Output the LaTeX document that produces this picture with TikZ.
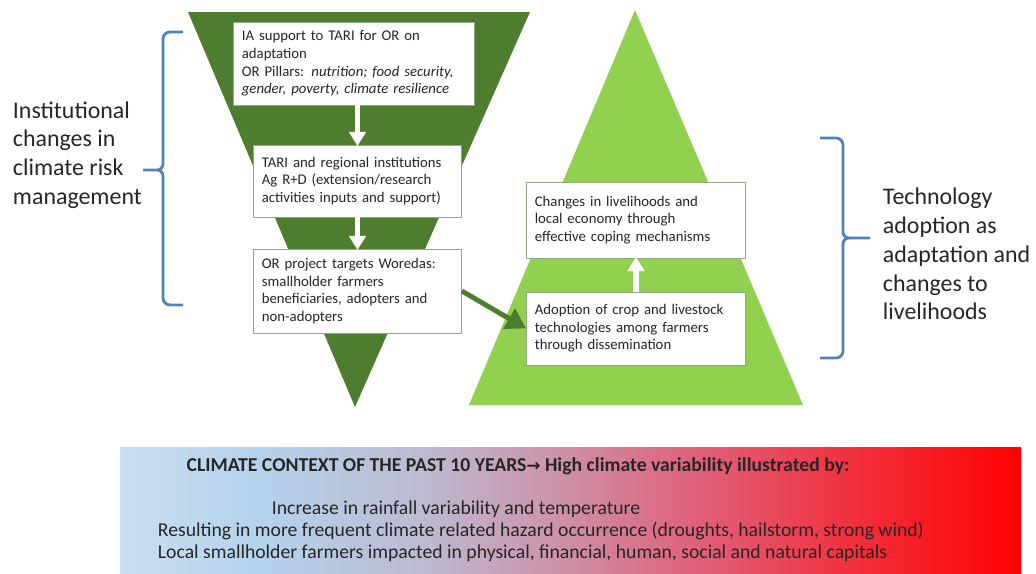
\documentclass[tikz,border=0pt]{standalone}
\usepackage{fontspec}
\setmainfont{Carlito}
\newfontfamily\arrowfont{DejaVu Sans}
\usetikzlibrary{arrows.meta}
\definecolor{darkleaf}{HTML}{4F7D2F}
\definecolor{lightleaf}{HTML}{92D050}
\definecolor{boxline}{HTML}{8FA97F}
\definecolor{braceblue}{HTML}{4F81BD}
\definecolor{ink}{HTML}{262626}
\definecolor{skyA}{HTML}{C9DEF1}
\definecolor{skyB}{HTML}{B5D2EC}
\definecolor{haze}{HTML}{BDB9D0}
\definecolor{mauve}{HTML}{CC94AA}
\definecolor{rosy}{HTML}{E0607A}
\definecolor{hot}{HTML}{F22E3A}
\definecolor{fire}{HTML}{FF0000}
\pgfdeclarehorizontalshading{climate}{100bp}{color(0bp)=(skyA); color(25bp)=(skyA); color(33bp)=(skyB); color(42bp)=(haze); color(49bp)=(mauve); color(57bp)=(rosy); color(66bp)=(hot); color(75bp)=(fire); color(100bp)=(fire)}
\tikzset{
  stagebox/.style={draw=boxline,fill=white,line width=0.5pt,align=left,inner xsep=6pt,inner ysep=4pt},
  sidetext/.style={align=left,font=\fontsize{17}{20.5}\selectfont},
  flowdown/.style={white,line width=4.2pt,-{Triangle[length=10pt,width=11.5pt]},shorten >=-1pt},
  leafarrow/.style={darkleaf,line width=3.5pt,-{Triangle[length=14pt,width=16pt]}},
  bracket/.style={braceblue,line width=2pt},
  ctxtext/.style={font=\fontsize{14}{16.5}\selectfont,text=black!85}
}

\begin{document}
\begin{tikzpicture}[x=0.025cm,y=-0.025cm,font=\fontsize{10.5}{12.5}\selectfont,text=ink]
  \useasboundingbox (0,0) rectangle (1036,573);
  % the two triangles
  \fill[darkleaf] (188,12) -- (530,12) -- (355,407) -- cycle;
  \fill[lightleaf] (635,10) -- (803,405) -- (469,405) -- cycle;

  % institutional side
  \node[stagebox,text width=159.5pt,minimum height=2.075cm] (support) at (354,63.5)
    {IA support to TARI for OR on\\adaptation\\OR Pillars: \textit{nutrition; food security,}\\\textit{gender, poverty, climate resilience}};
  \node[stagebox,text width=136pt,minimum height=1.8cm] (tari) at (357.5,181)
    {TARI and regional institutions\\Ag R+D (extension/research\\activities inputs and support)};
  \node[stagebox,text width=136pt,minimum height=2.1cm] (woredas) at (357.5,291)
    {OR project targets Woredas:\\smallholder farmers\\beneficiaries, adopters and\\non-adopters};

  % technology side
  \node[stagebox,text width=143.9pt,minimum height=1.9cm] (livelihood) at (636,220)
    {Changes in livelihoods and\\local economy through\\effective coping mechanisms};
  \node[stagebox,text width=143.9pt,minimum height=1.825cm] (adoption) at (636,328.5)
    {Adoption of crop and livestock\\technologies among farmers\\through dissemination};

  \draw[flowdown] (tari.north |- support.south) -- (tari.north);
  \draw[flowdown] (tari.south) -- (woredas.north);
  \draw[flowdown] (adoption.north) -- (livelihood.south);
  \draw[leafarrow] (woredas.east) -- (adoption.west);

  % braces
  \draw[bracket] (183,32) -- (170,32) to[out=180,in=90] (163,39) -- (163,164)
    to[out=-90,in=0] (157,170) -- (143,170)
    (157,170) to[out=0,in=90] (163,176) -- (163,298) to[out=-90,in=180] (170,305) -- (183,305);
  \draw[bracket] (820,138) -- (836,138) to[out=0,in=90] (843,145) -- (843,232)
    to[out=-90,in=180] (849,238) -- (870,238)
    (849,238) to[out=180,in=90] (843,244) -- (843,351) to[out=-90,in=0] (836,358) -- (820,358);
  \node[sidetext,anchor=west] (institutional) at (8,155)
    {Institutional\\changes in\\climate risk\\management};
  \node[sidetext,anchor=west] (technology) at (878,254)
    {Technology\\adoption as\\adaptation and\\changes to\\livelihoods};

  % climate context panel
  \shade[shading=climate] (120,447) rectangle (1021,573);
  \node[ctxtext,font=\fontsize{14}{16.5}\selectfont\bfseries] (ctxtitle) at (518,466)
    {CLIMATE CONTEXT OF THE PAST 10 YEARS{\arrowfont\bfseries\fontsize{12}{14}\selectfont →} High climate variability illustrated by:};
  \node[ctxtext] (ctxrain) at (456,509) {Increase in rainfall variability and temperature};
  \node[ctxtext,anchor=west,align=left,font=\fontsize{14}{15.5}\selectfont] (ctximpact) at (153,542)
    {Resulting in more frequent climate related hazard occurrence (droughts, hailstorm, strong wind)\\Local smallholder farmers impacted in physical, financial, human, social and natural capitals};
\end{tikzpicture}
\end{document}
